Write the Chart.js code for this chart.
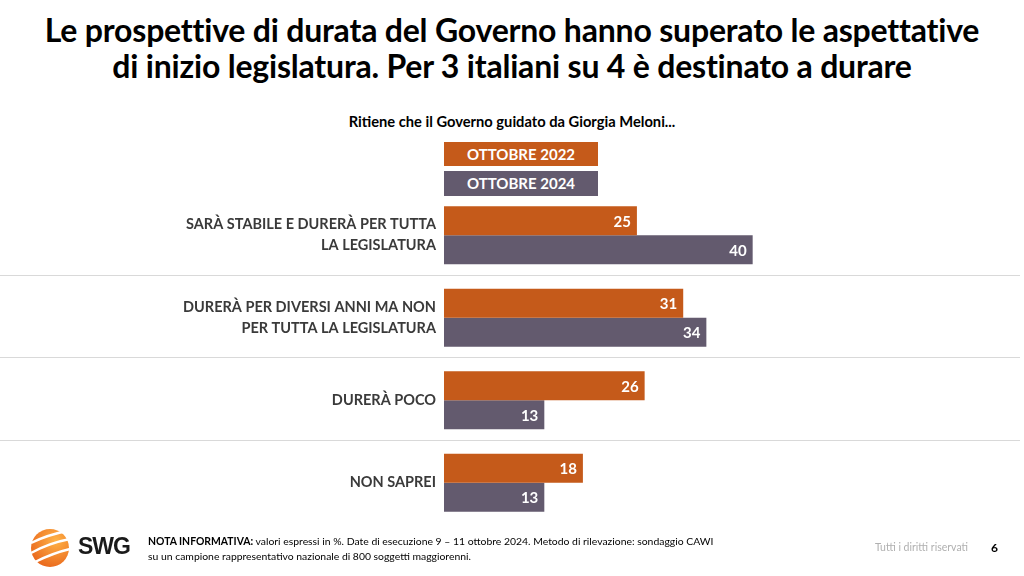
<!DOCTYPE html>
<html>
<head>
<meta charset="utf-8">
<script src="https://cdn.jsdelivr.net/npm/chart.js@4.4.1/dist/chart.umd.min.js"></script>
<style>
  html, body { margin: 0; padding: 0; background: #fff; }
  body { width: 1024px; height: 576px; position: relative; overflow: hidden; font-family: Lato, "Open Sans", sans-serif; }
  #title { position: absolute; left: 0; top: 12px; width: 1024px; text-align: center; font-weight: bold; font-size: 32px; line-height: 36px; color: #000; letter-spacing: -0.2px; }
  #subtitle { position: absolute; left: 0; top: 112px; width: 1024px; text-align: center; font-weight: bold; font-size: 14.7px; color: #000; }
  .legbox { position: absolute; left: 444px; width: 154px; color: #fff; font-weight: bold; font-size: 15px; text-align: center; }
  #chartWrap { position: absolute; left: 0; top: 0; width: 1024px; height: 576px; }
  #note { position: absolute; left: 148px; top: 534px; font-size: 10.4px; line-height: 15px; color: #000; }
  #rights { position: absolute; left: 875px; top: 541px; font-size: 10.5px; color: #b0b0b0; }
  #page { position: absolute; left: 991px; top: 540px; font-size: 12px; font-weight: bold; color: #000; }
  #swg { position: absolute; left: 78px; top: 533px; font-size: 23px; font-weight: 900; color: #1a1a1a; font-family: "Liberation Sans", Arial, sans-serif; letter-spacing: -1px; }
  #logo { position: absolute; left: 29px; top: 527px; }
</style>
</head>
<body>
<div id="title">Le prospettive di durata del Governo hanno superato le aspettative<br>di inizio legislatura. Per 3 italiani su 4 è destinato a durare</div>
<div id="subtitle">Ritiene che il Governo guidato da Giorgia Meloni...</div>
<div id="chartWrap"><canvas id="chart" width="1024" height="576"></canvas></div>
<div id="legend"></div>
<svg id="logo" width="42" height="42" viewBox="0 0 42 42">
  <defs>
    <radialGradient id="g" cx="0.65" cy="0.3" r="0.8">
      <stop offset="0" stop-color="#ffb347"/>
      <stop offset="1" stop-color="#e8631a"/>
    </radialGradient>
  </defs>
  <circle cx="21" cy="21" r="19" fill="url(#g)"/>
  <path d="M2 16 Q18 8 38 4" stroke="#fff" stroke-width="2.5" fill="none"/>
  <path d="M2 26 Q20 16 41 12" stroke="#fff" stroke-width="2.5" fill="none"/>
  <path d="M6 35 Q24 26 41 22" stroke="#fff" stroke-width="2.5" fill="none"/>
</svg>
<div id="swg">SWG</div>
<div id="note"><b>NOTA INFORMATIVA:</b> valori espressi in %. Date di esecuzione 9 – 11 ottobre 2024. Metodo di rilevazione: sondaggio CAWI<br>su un campione rappresentativo nazionale di 800 soggetti maggiorenni.</div>
<div id="rights">Tutti i diritti riservati</div>
<div id="page">6</div>

<script>
const categories = [
  ["SARÀ STABILE E DURERÀ PER TUTTA", "LA LEGISLATURA"],
  ["DURERÀ PER DIVERSI ANNI MA NON", "PER TUTTA LA LEGISLATURA"],
  "DURERÀ POCO",
  "NON SAPREI",
];
const seriesNames = ["OTTOBRE 2022", "OTTOBRE 2024"];
const values2022 = [25, 31, 26, 18];
const values2024 = [40, 34, 13, 13];
const seriesColors = ["#C55A1A", "#635A6E"];

// legenda come riquadri colorati sopra le barre
const legendTops = [142, 171];
const legendHeights = [24, 25];
const legend = document.getElementById("legend");
seriesNames.forEach((name, i) => {
  const d = document.createElement("div");
  d.className = "legbox";
  d.style.top = legendTops[i] + "px";
  d.style.height = legendHeights[i] + "px";
  d.style.lineHeight = legendHeights[i] + "px";
  d.style.background = seriesColors[i];
  d.textContent = name;
  legend.appendChild(d);
});

// linee di separazione tra le categorie
const separators = {
  id: "separators",
  beforeDatasetsDraw(chart) {
    const ctx = chart.ctx;
    const y = chart.scales.y;
    ctx.save();
    ctx.strokeStyle = "#d9d9d9";
    ctx.lineWidth = 1;
    for (let i = 0; i < categories.length - 1; i++) {
      const py = Math.round(y.getPixelForValue(i + 0.5)) - 1.5;
      ctx.beginPath();
      ctx.moveTo(0, py);
      ctx.lineTo(1020, py);
      ctx.stroke();
    }
    ctx.restore();
  },
};

// valori in bianco alla fine di ogni barra
const barLabels = {
  id: "barLabels",
  afterDatasetsDraw(chart) {
    const ctx = chart.ctx;
    ctx.save();
    ctx.fillStyle = "#fff";
    ctx.font = "bold 15px Lato, 'Open Sans', sans-serif";
    ctx.textAlign = "right";
    ctx.textBaseline = "middle";
    chart.data.datasets.forEach((ds, di) => {
      chart.getDatasetMeta(di).data.forEach((bar, i) => {
        ctx.fillText(ds.data[i], bar.x - 6, bar.y + 1);
      });
    });
    ctx.restore();
  },
};

new Chart(document.getElementById("chart"), {
  type: "bar",
  data: {
    labels: categories,
    datasets: [
      { label: seriesNames[0], data: values2022, backgroundColor: seriesColors[0] },
      { label: seriesNames[1], data: values2024, backgroundColor: seriesColors[1] },
    ],
  },
  options: {
    indexAxis: "y",
    responsive: false,
    animation: false,
    events: [],
    layout: { padding: { top: 194, bottom: 52, left: 0, right: 117 } },
    datasets: { bar: { categoryPercentage: 0.703, barPercentage: 1.0 } },
    scales: {
      x: { display: false, min: 0, max: 60 },
      y: {
        grid: { display: false },
        border: { display: false },
        ticks: {
          color: "#3a3a3a",
          padding: 0,
          font: { family: "Lato, 'Open Sans', sans-serif", size: 14.5, weight: "bold", lineHeight: 1.45 },
        },
        afterFit(scale) { scale.width = 444; },
      },
    },
    plugins: { legend: { display: false }, tooltip: { enabled: false } },
  },
  plugins: [separators, barLabels],
});
</script>
</body>
</html>
